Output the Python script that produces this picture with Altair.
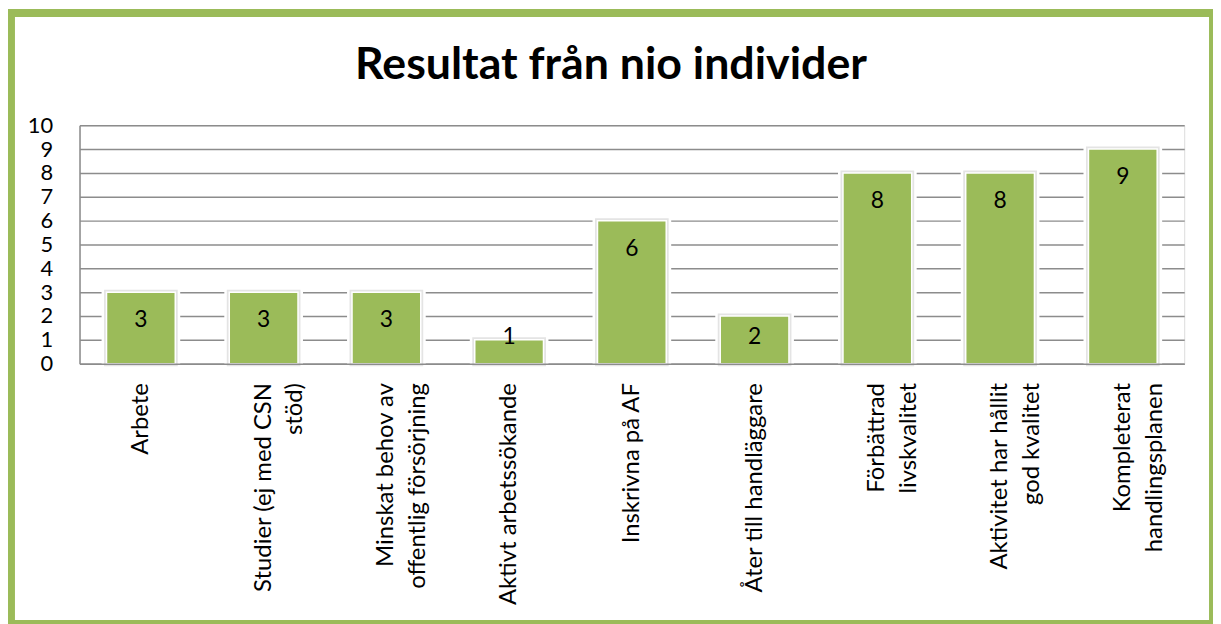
import altair as alt
import pandas as pd

categories = [
    "Arbete",
    "Studier (ej med CSN|stöd)",
    "Minskat behov av|offentlig försörjning",
    "Aktivt arbetssökande",
    "Inskrivna på AF",
    "Åter till handläggare",
    "Förbättrad|livskvalitet",
    "Aktivitet har hållit|god kvalitet",
    "Kompleterat|handlingsplanen",
]
values = [3, 3, 3, 1, 6, 2, 8, 8, 9]
y_ticks = list(range(0, 11))
title_text = "Resultat från nio individer"

GREEN = "#9BBB59"
GRID = "#8c8c8c"
FONT = "Lato"

df = pd.DataFrame({"cat": categories, "value": values})

y_scale = alt.Scale(domain=[0, 10], nice=False)
x_scale = alt.Scale(paddingInner=0.44, paddingOuter=0.22)

x_axis = alt.Axis(
    labelAngle=-90,
    labelExpr="split(datum.label, '|')",
    labelFont=FONT,
    labelFontSize=24,
    labelColor="black",
    labelLineHeight=32,
    labelPadding=19,
    labelLimit=400,
    ticks=False,
    domainColor=GRID,
    domainWidth=1.5,
    grid=False,
    zindex=1,
)
y_axis = alt.Axis(
    values=y_ticks,
    labelFont=FONT,
    labelFontSize=22,
    labelColor="black",
    labelPadding=27,
    labelOverlap=False,
    ticks=False,
    domainColor=GRID,
    domainWidth=1.5,
    gridColor=GRID,
    gridWidth=1.5,
)

x_enc = alt.X("cat:N", sort=None, title=None, scale=x_scale, axis=x_axis)
y_enc = alt.Y("value:Q", title=None, scale=y_scale, axis=y_axis)

base = alt.Chart(df)

glow = base.mark_bar(fill="white", stroke="white", strokeWidth=10).encode(x=x_enc, y=y_enc)
shadow = base.mark_bar(fill="white", stroke="#e4e4e4", strokeWidth=5).encode(x=x_enc, y=y_enc)
bars = base.mark_bar(fill=GREEN, stroke="white", strokeWidth=1.5).encode(x=x_enc, y=y_enc)

labels = base.transform_calculate(
    label_y="max(datum.value - 1.19, 1.1)"
).mark_text(font=FONT, fontSize=23, color="black", baseline="middle").encode(
    x=x_enc,
    y=alt.Y("label_y:Q", title=None, scale=y_scale, axis=y_axis),
    text=alt.Text("value:Q"),
)

title = alt.Chart(alt.Data(values=[{"t": title_text}])).mark_text(
    font=FONT, fontSize=45, fontWeight="bold", color="black",
    align="center", baseline="alphabetic",
).encode(x=alt.value(535), y=alt.value(-47), text="t:N")

frame = alt.Chart(alt.Data(values=[{"f": 1}])).mark_rect(
    filled=False, stroke=GREEN, strokeWidth=8
).encode(
    x=alt.value(-69), x2=alt.value(1141), y=alt.value(-113), y2=alt.value(502)
)

chart = alt.layer(glow, shadow, bars, labels, title, frame).properties(
    width=1112,
    height=240,
    autosize=alt.AutoSizeParams(type="none"),
    padding={"left": 72, "top": 116, "right": 29, "bottom": 260},
).configure_view(strokeWidth=0).configure(background="white")

chart.save("out.html", embed_options={"renderer": "svg", "actions": False})
